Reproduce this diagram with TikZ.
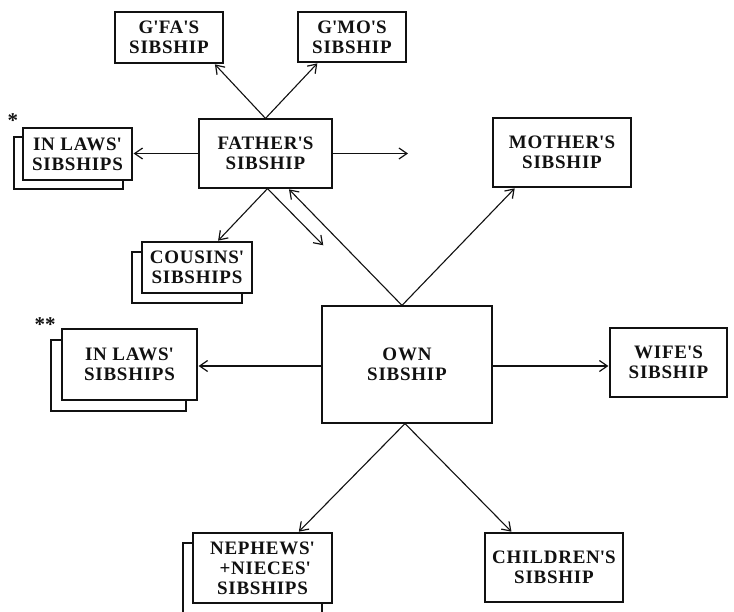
\documentclass[tikz,border=0pt]{standalone}
\usepackage{fontspec}
\setmainfont{Liberation Serif}
\usepackage{xcolor}
\usepackage{tikz}
\usetikzlibrary{arrows.meta, shadows}
\definecolor{encre}{HTML}{111111}
\newcommand{\ap}{\textquotesingle}
\tikzset{
  bloc/.style={rectangle, draw=encre, fill=white, text=encre, line width=1.2pt,
    font=\bfseries\fontsize{19}{20}\selectfont\addfontfeatures{LetterSpace=4},
    align=center, inner sep=0pt},
  pile/.style={bloc, copy shadow={shadow xshift=-#1, shadow yshift=-#1}},
  fleche/.style={-{Straight Barb[length=8pt, width=11pt, line width=1.2pt]},
    line width=1.1pt, color=encre, shorten >=1pt},
  etoile/.style={font=\bfseries\fontsize{21}{20}\selectfont, text=encre, inner sep=0pt}
}
\begin{document}
\begin{tikzpicture}[x=1pt, y=-1pt]
    \useasboundingbox (0,0) rectangle (734,611);
    % grand-parents
    \node[bloc, minimum width=108pt, minimum height=51pt] (gpere) at (169,37.5) {G\ap FA\ap S\\SIBSHIP};
    \node[bloc, minimum width=108pt, minimum height=50pt] (gmere) at (352,37) {G\ap MO\ap S\\SIBSHIP};
    % parents
    \node[bloc, minimum width=133pt, minimum height=69pt] (pere) at (265.5,153.5) {FATHER\ap S\\SIBSHIP};
    \node[bloc, minimum width=138pt, minimum height=69pt] (mere) at (562,152.5) {MOTHER\ap S\\SIBSHIP};
    \node[pile=9pt, minimum width=109pt, minimum height=52pt] (beaux1) at (77.5,154) {IN LAWS\ap\\SIBSHIPS};
    \node[etoile] (et1) at (13,121) {*};
    \node[pile=10pt, minimum width=110pt, minimum height=51pt] (cousins) at (197,267.5) {COUSINS\ap\\SIBSHIPS};
    \coordinate (pdroite) at (409,153.5);
    \coordinate (pbas) at (324,246);
    % ego
    \node[bloc, minimum width=170pt, minimum height=117pt] (propre) at (407,364.5) {OWN\\SIBSHIP};
    \node[pile=11pt, minimum width=135pt, minimum height=71pt] (beaux2) at (129.5,364.5) {IN LAWS\ap\\SIBSHIPS};
    \node[etoile] (et2) at (45,325) {**};
    \node[bloc, minimum width=117pt, minimum height=69pt] (epouse) at (668.5,362.5) {WIFE\ap S\\SIBSHIP};
    % descendants
    \node[pile=10pt, minimum width=139pt, minimum height=70pt] (neveux) at (262.5,568) {NEPHEWS\ap\\\ +NIECES\ap\\SIBSHIPS};
    \node[bloc, minimum width=138pt, minimum height=69pt] (enfants) at (554,567.5) {CHILDREN\ap S\\SIBSHIP};

    \draw[fleche] (pere.north) -- (gpere.-30);
    \draw[fleche] (pere.north) -- (gmere.-143);
    \draw[fleche] (pere.west) -- (pere.west -| beaux1.east);
    \draw[fleche] (pere.east) -- (pdroite);
    \draw[fleche] ([xshift=2pt]pere.south) -- (cousins.52);
    \draw[fleche] ([xshift=2pt]pere.south) -- (pbas);
    \draw[fleche] ([xshift=-5pt]propre.north) -- (pere.-57);
    \draw[fleche] ([xshift=-5pt]propre.north) -- (mere.-143);
    \draw[fleche] ([yshift=-1.5pt]propre.west) -- ([yshift=-1.5pt]propre.west -| beaux2.east);
    \draw[fleche] ([yshift=-1.5pt]propre.east) -- ([yshift=-1.5pt]propre.east -| epouse.west);
    \draw[fleche] ([xshift=-2pt]propre.south) -- (neveux.45);
    \draw[fleche] ([xshift=-2pt]propre.south) -- (enfants.140.6);
\end{tikzpicture}
\end{document}
